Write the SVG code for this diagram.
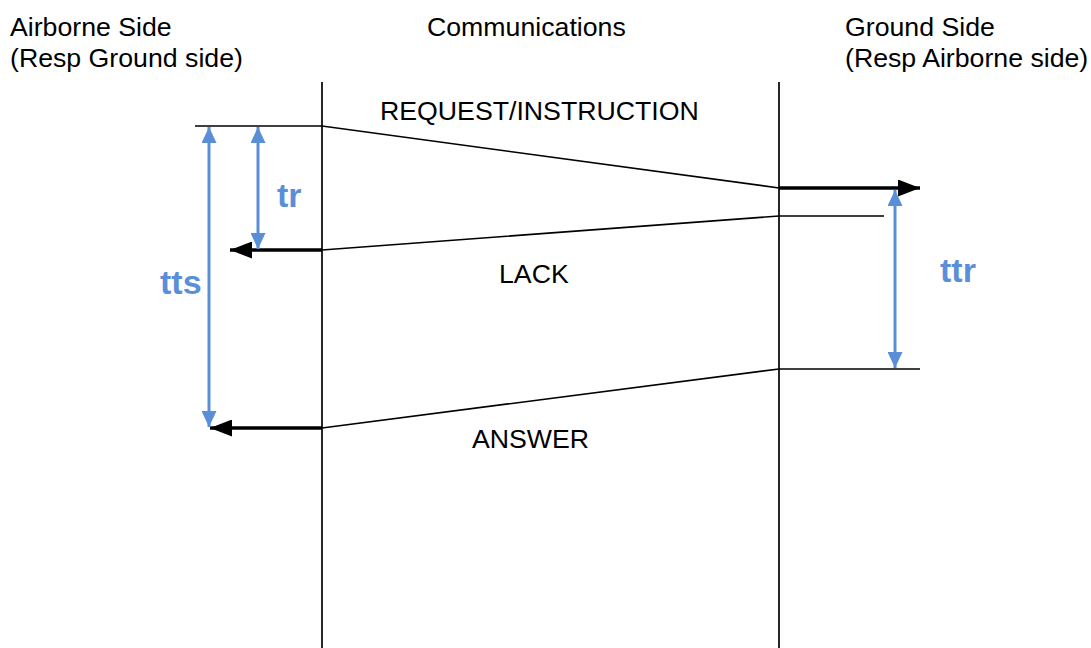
<svg xmlns="http://www.w3.org/2000/svg" width="1091" height="648" viewBox="0 0 1091 648">
<style>
.t{font-family:"Liberation Sans",Arial,sans-serif;font-size:26.7px;fill:#000}
.b{font-family:"Liberation Sans",Arial,sans-serif;font-size:34px;font-weight:bold;fill:#5a8fd8}
.thin{stroke:#000;stroke-width:1.7;fill:none}
.thick{stroke:#000;stroke-width:3.4;fill:none}
.blue{stroke:#5a8fd8;stroke-width:3;fill:none}
</style>
<defs>
<marker id="bh" viewBox="0 0 10 10" refX="10" refY="5" markerWidth="16" markerHeight="15" markerUnits="userSpaceOnUse" orient="auto-start-reverse" preserveAspectRatio="none">
<path d="M0,0 L10,5 L0,10 Z" fill="#5a8fd8"/>
</marker>
<marker id="kh" viewBox="0 0 10 10" refX="10" refY="5" markerWidth="22" markerHeight="17" markerUnits="userSpaceOnUse" orient="auto" preserveAspectRatio="none">
<path d="M0,0 L10,5 L0,10 Z" fill="#000"/>
</marker>
</defs>
<g id="labels">
<text class="t" x="10" y="36">Airborne Side</text>
<text class="t" x="10" y="67">(Resp Ground side)</text>
<text class="t" x="427" y="36">Communications</text>
<text class="t" x="845" y="36">Ground Side</text>
<text class="t" x="845" y="67">(Resp Airborne side)</text>
</g>
<g id="lifelines">
<line class="thin" x1="322" y1="82" x2="322" y2="648"/>
<line class="thin" x1="779" y1="82" x2="779" y2="648"/>
</g>
<g id="connectors">
<polyline class="thin" points="195,126 322,126 779,188"/>
<line class="thick" x1="779" y1="188" x2="920" y2="188" marker-end="url(#kh)"/>
<polyline class="thin" points="884,216 779,216 322,250"/>
<line class="thick" x1="322" y1="250" x2="230" y2="250" marker-end="url(#kh)"/>
<polyline class="thin" points="920,369 779,369 322,428"/>
<line class="thick" x1="322" y1="428" x2="210" y2="428" marker-end="url(#kh)"/>
<line class="blue" x1="209" y1="127" x2="209" y2="427" marker-start="url(#bh)" marker-end="url(#bh)"/>
<line class="blue" x1="258" y1="127" x2="258" y2="249" marker-start="url(#bh)" marker-end="url(#bh)"/>
<line class="blue" x1="895" y1="190" x2="895" y2="368" marker-start="url(#bh)" marker-end="url(#bh)"/>
</g>
<g id="message-labels">
<text class="t" x="380" y="120">REQUEST/INSTRUCTION</text>
<text class="t" x="499" y="283">LACK</text>
<text class="t" x="472" y="448">ANSWER</text>
</g>
<g id="time-labels">
<text class="b" x="277" y="207">tr</text>
<text class="b" x="160" y="294">tts</text>
<text class="b" x="940" y="282">ttr</text>
</g>
</svg>
